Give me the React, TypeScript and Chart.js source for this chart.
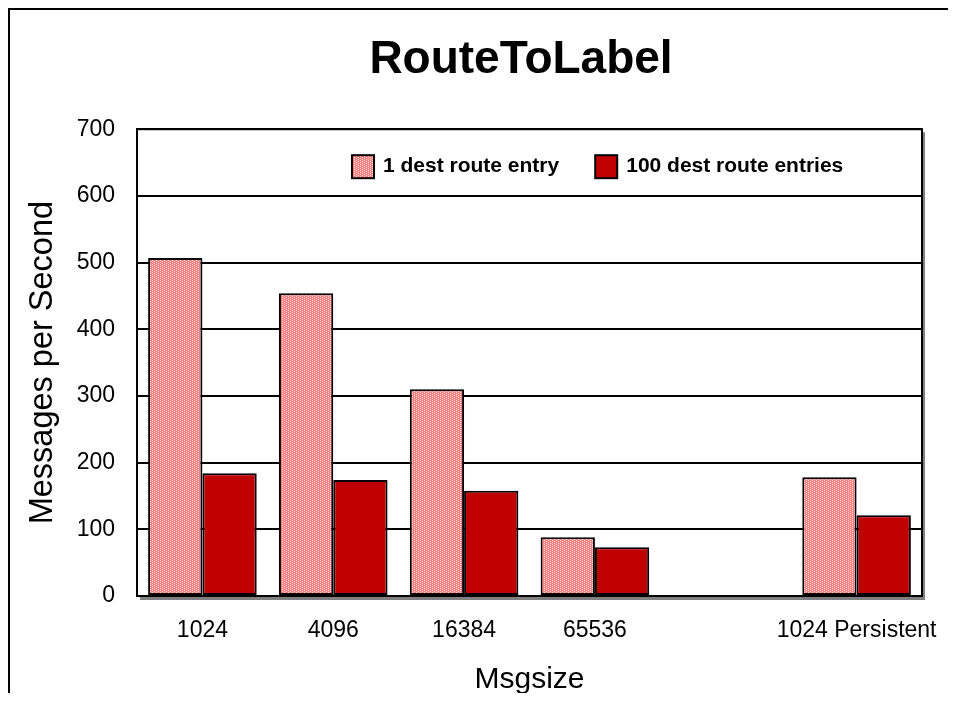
import React, { useEffect, useRef } from 'react';
import { Chart, registerables } from 'chart.js';

Chart.register(...registerables);

const categories = ['1024', '4096', '16384', '65536', '', '1024 Persistent'];
const oneDestValues = [507, 454, 310, 88, 1, 178];
const hundredDestValues = [184, 174, 158, 73, 1, 121];
const seriesNames = ['1 dest route entry', '100 dest route entries'];
const yMin = 0;
const yMax = 700;
const yStep = 100;
const chartTitle = 'RouteToLabel';
const xTitle = 'Msgsize';
const yTitle = 'Messages per Second';

const FAMILY = "'Liberation Sans', Arial, sans-serif";

function makePattern(): CanvasPattern | string {
  const c = document.createElement('canvas');
  c.width = 8;
  c.height = 8;
  const g = c.getContext('2d');
  if (!g) return '#FF9090';
  g.fillStyle = '#FF7F7F';
  g.fillRect(0, 0, 8, 8);
  g.fillStyle = '#FFE0E0';
  for (let y = 0; y < 8; y++) {
    for (let x = 0; x < 8; x++) {
      if ((x + 2 * y) % 4 === 0) g.fillRect(x, y, 1, 1);
    }
  }
  return g.createPattern(c, 'repeat') || '#FF9090';
}

const framePlugin = {
  id: 'frame',
  beforeDraw(chart: any) {
    const { ctx, chartArea, width, height } = chart;
    ctx.save();
    ctx.fillStyle = '#ffffff';
    ctx.fillRect(0, 0, width, height);
    ctx.strokeStyle = '#000';
    ctx.lineWidth = 2;
    ctx.beginPath();
    ctx.moveTo(1, height);
    ctx.lineTo(1, 1);
    ctx.lineTo(width, 1);
    ctx.stroke();
    const w = chartArea.right - chartArea.left;
    const h = chartArea.bottom - chartArea.top;
    ctx.fillStyle = '#808080';
    ctx.fillRect(chartArea.left + 3, chartArea.top + 3, w, h + 1);
    ctx.fillStyle = '#ffffff';
    ctx.fillRect(chartArea.left, chartArea.top, w, h);
    ctx.restore();
  },
  afterDatasetsDraw(chart: any) {
    const { ctx, chartArea } = chart;
    ctx.save();
    ctx.strokeStyle = '#000';
    ctx.lineWidth = 2;
    ctx.strokeRect(chartArea.left, chartArea.top, chartArea.right - chartArea.left, chartArea.bottom - chartArea.top);
    // legend inside plot area
    ctx.font = `bold 21px ${FAMILY}`;
    ctx.textBaseline = 'middle';
    ctx.textAlign = 'left';
    let x = chartArea.left + 215;
    const cy = chartArea.top + 37;
    chart.data.datasets.forEach((ds: any) => {
      ctx.fillStyle = ds.backgroundColor;
      ctx.fillRect(x, cy - 11, 22, 23);
      ctx.strokeStyle = '#000';
      ctx.lineWidth = 2;
      ctx.strokeRect(x, cy - 11, 22, 23);
      x += 31;
      ctx.fillStyle = '#000';
      ctx.fillText(ds.label, x, cy);
      x += ctx.measureText(ds.label).width + 36;
    });
    ctx.restore();
  },
};

export default function App() {
  const ref = useRef<HTMLCanvasElement | null>(null);

  useEffect(() => {
    document.documentElement.style.overflow = 'hidden';
    document.body.style.overflow = 'hidden';
    const canvas = ref.current;
    if (!canvas) return;
    Chart.defaults.font.family = FAMILY;
    const pattern = makePattern();
    const chart = new Chart(canvas, {
      type: 'bar',
      data: {
        labels: categories,
        datasets: [
          {
            label: seriesNames[0],
            data: oneDestValues,
            backgroundColor: pattern as any,
            borderColor: '#000',
            borderWidth: 2,
            borderSkipped: false,
            barPercentage: 1,
            categoryPercentage: 0.83,
            yAxisID: 'y',
          },
          {
            label: seriesNames[1],
            data: hundredDestValues,
            backgroundColor: '#C00000',
            borderColor: '#000',
            borderWidth: 2,
            borderSkipped: false,
            barPercentage: 1,
            categoryPercentage: 0.83,
            yAxisID: 'y',
          },
        ],
      },
      options: {
        animation: false,
        responsive: false,
        devicePixelRatio: 1,
        layout: { padding: { left: 0, right: 0, top: 0, bottom: 0 } },
        plugins: {
          legend: { display: false },
          tooltip: { enabled: false },
          title: {
            display: true,
            text: chartTitle,
            color: '#000',
            font: { family: FAMILY, size: 46, weight: 'bold' },
            padding: { top: 25, bottom: 41 },
          },
        },
        scales: {
          x: {
            grid: { display: false, drawTicks: false },
            border: { display: false },
            ticks: {
              color: '#000',
              font: { family: FAMILY, size: 23 },
              padding: 21,
              maxRotation: 0,
              autoSkip: false,
            },
            title: {
              display: true,
              text: xTitle,
              color: '#000',
              font: { family: FAMILY, size: 30 },
              padding: { top: 0, bottom: 3 },
            },
            afterFit: (s: any) => {
              s.height = 105;
            },
          },
          y: {
            position: 'left',
            min: yMin,
            max: yMax,
            ticks: {
              stepSize: yStep,
              color: '#000',
              font: { family: FAMILY, size: 23 },
              padding: 22,
            },
            grid: { color: '#000', lineWidth: 2, drawTicks: false },
            border: { display: true, color: '#000', width: 2 },
            title: {
              display: true,
              text: yTitle,
              color: '#000',
              font: { family: FAMILY, size: 32.5 },
              padding: { top: 16, bottom: 0 },
            },
            afterFit: (s: any) => {
              s.width = 129;
            },
          },
          yRight: {
            position: 'right',
            display: true,
            grid: { display: false, drawTicks: false },
            border: { display: false },
            ticks: { display: false },
            afterFit: (s: any) => {
              s.width = 112;
            },
          },
        },
      } as any,
      plugins: [framePlugin],
    });
    return () => chart.destroy();
  }, []);

  return (
    <div style={{ height: 685, overflow: 'hidden' }}>
      <canvas ref={ref} width={1026} height={693} style={{ display: 'block' }} />
    </div>
  );
}
